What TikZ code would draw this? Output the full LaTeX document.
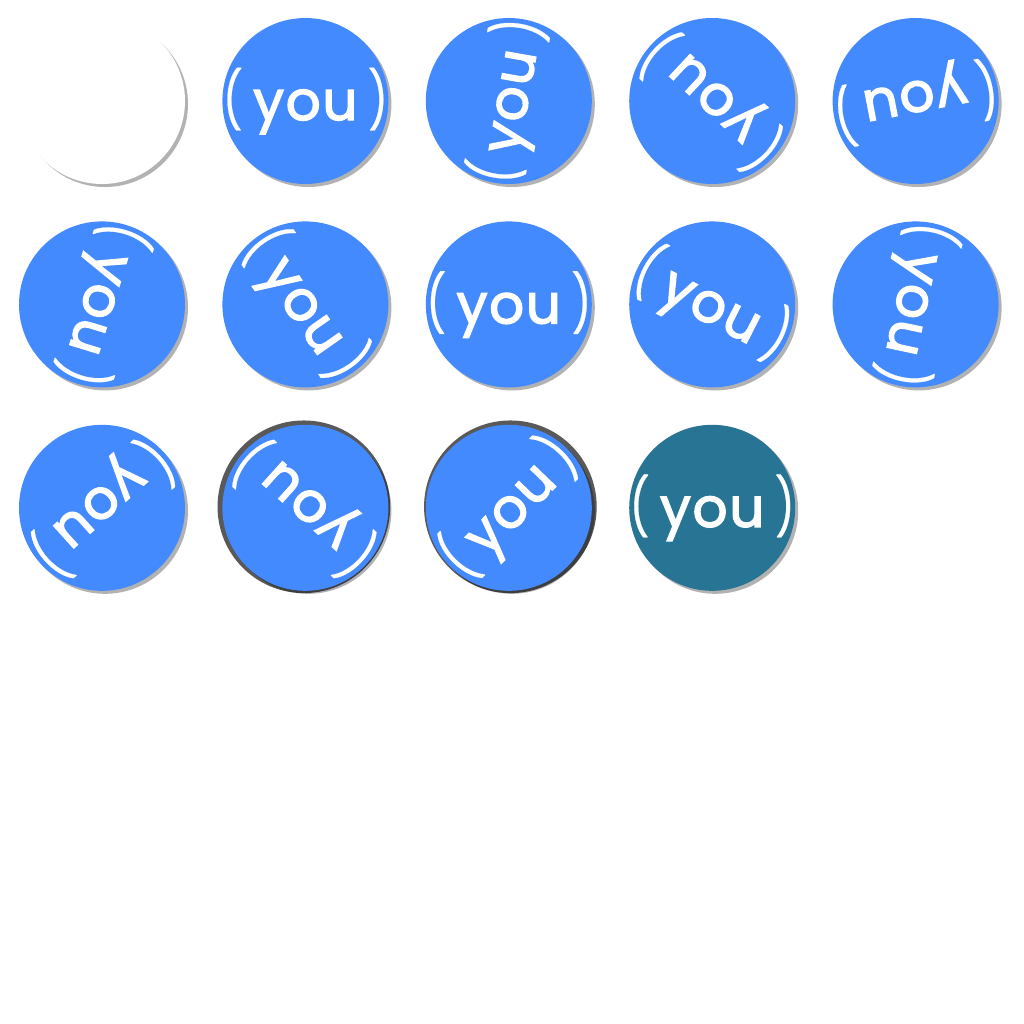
\documentclass[tikz,border=0pt]{standalone}
\usepackage{fontspec}
\newfontfamily\badgefont{Poppins}[FakeBold=2.5, LetterSpace=3]
\newfontfamily\parenfont{Poppins}[FakeBold=0.5]
\usetikzlibrary{positioning, shadows}
\definecolor{BadgeBlue}{RGB}{68, 138, 255}
\definecolor{BadgeTeal}{RGB}{39, 116, 148}
\newcommand{\tallparen}[1]{{\parenfont\scalebox{0.8}[1.02]{#1}}}
\newcommand{\pgap}{\hspace{3pt}}

\begin{document}
\begin{tikzpicture}[
            badge/.style={circle, minimum size=1.66cm, inner sep=0pt, fill=BadgeBlue,
                drop shadow={shadow xshift=0.03cm, shadow yshift=-0.03cm, fill=black, opacity=0.3}},
            rim/.style={drop shadow={shadow xshift=#1, shadow yshift=0.01cm, shadow scale=1.04, fill=black, opacity=0.65}},
            youtext/.style={text=white, inner sep=0pt, font=\badgefont\fontsize{15.6}{16}\selectfont},
        ]
            \useasboundingbox (0,0) rectangle (10.24,-10.24);
            % row 1
            \node[badge, fill=white] (b1) at (1.02,-1.01) {};
            \node[badge, right=0.36cm of b1] (b2) {};
            \node[badge, right=0.36cm of b2] (b3) {};
            \node[badge, right=0.36cm of b3] (b4) {};
            \node[badge, right=0.36cm of b4] (b5) {};
            % row 2
            \node[badge, below=0.36cm of b1] (b6) {};
            \node[badge, right=0.36cm of b6] (b7) {};
            \node[badge, right=0.36cm of b7] (b8) {};
            \node[badge, right=0.36cm of b8] (b9) {};
            \node[badge, right=0.36cm of b9] (b10) {};
            % row 3
            \node[badge, below=0.36cm of b6] (b11) {};
            \node[badge, rim=-0.015cm, right=0.36cm of b11] (b12) {};
            \node[badge, rim=0.015cm, right=0.36cm of b12] (b13) {};
            \node[badge, fill=BadgeTeal, right=0.36cm of b13] (b14) {};
            % labels
            \node[youtext] (t2) at (b2) {\tallparen{(}\pgap you\pgap\tallparen{)}};
            \node[youtext, rotate=80] (t3) at (b3) {\tallparen{(}\pgap you\pgap\tallparen{)}};
            \node[youtext, rotate=137] (t4) at (b4) {\tallparen{(}\pgap you\pgap\tallparen{)}};
            \node[youtext, rotate=191] (t5) at (b5) {\tallparen{(}\pgap you\pgap\tallparen{)}};
            \node[youtext, rotate=-107] (t6) at (b6) {\tallparen{(}\pgap you\pgap\tallparen{)}};
            \node[youtext, rotate=-55] (t7) at (b7) {\tallparen{(}\pgap you\pgap\tallparen{)}};
            \node[youtext] (t8) at (b8) {\tallparen{(}\pgap you\pgap\tallparen{)}};
            \node[youtext, rotate=-27] (t9) at (b9) {\tallparen{(}\pgap you\pgap\tallparen{)}};
            \node[youtext, rotate=-102] (t10) at (b10) {\tallparen{(}\pgap you\pgap\tallparen{)}};
            \node[youtext, rotate=-138] (t11) at (b11) {\tallparen{(}\pgap you\pgap\tallparen{)}};
            \node[youtext, rotate=138] (t12) at (b12) {\tallparen{(}\pgap you\pgap\tallparen{)}};
            \node[youtext, rotate=46] (t13) at (b13) {\tallparen{(}\pgap you\pgap\tallparen{)}};
            \node[youtext] (t14) at (b14) {\tallparen{(}\pgap you\pgap\tallparen{)}};
        \end{tikzpicture}
\end{document}
